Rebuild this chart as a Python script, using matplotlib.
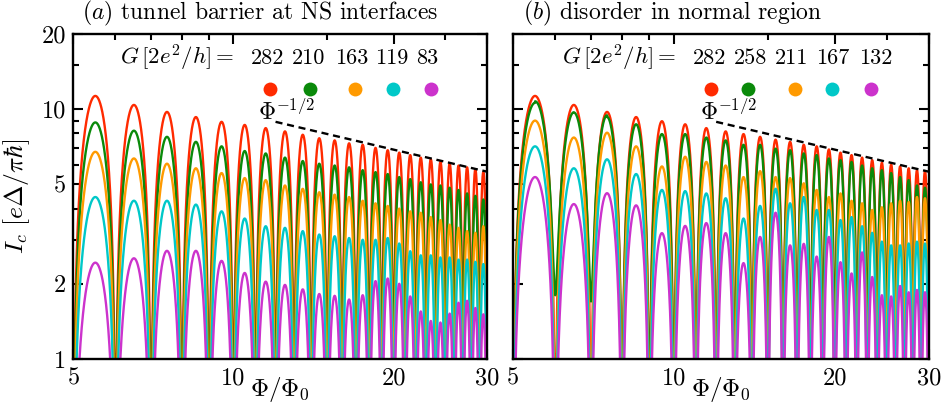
import numpy as np
import matplotlib
matplotlib.use('Agg')
import matplotlib.pyplot as plt
from matplotlib.ticker import FixedLocator, NullFormatter

plt.rcParams['font.family'] = 'serif'
plt.rcParams['font.serif'] = ['cmr10']
plt.rcParams['mathtext.fontset'] = 'cm'
plt.rcParams['axes.unicode_minus'] = False
plt.rcParams['axes.formatter.use_mathtext'] = True

# flux zeros sit at integer Phi/Phi0, one lobe per unit from 5 to 30
# peak height of every lobe, panel (a)
G_a = [282, 210, 163, 119, 83]
red_a = [11.3, 10.4, 9.75, 9.3, 8.9, 8.65, 8.4, 8.15, 7.9, 7.65, 7.5, 7.3, 7.2,
         7.0, 6.85, 6.7, 6.55, 6.4, 6.3, 6.15, 6.05, 5.95, 5.85, 5.75, 5.6]
green_a = [8.85, 8.2, 7.75, 7.4, 7.1, 6.8, 6.65, 6.4, 6.2, 6.05, 5.95, 5.85, 5.7,
           5.6, 5.5, 5.35, 5.25, 5.1, 5.0, 4.95, 4.85, 4.75, 4.6, 4.5, 4.35]
orange_a = [6.75, 6.35, 6.05, 5.8, 5.55, 5.3, 5.2, 4.95, 4.8, 4.65, 4.55, 4.45, 4.3,
            4.2, 4.1, 4.0, 3.9, 3.85, 3.7, 3.6, 3.45, 3.35, 3.25, 3.2, 3.4]
cyan_a = [4.45, 4.3, 4.3, 4.15, 3.9, 3.65, 3.4, 3.35, 3.25, 3.15, 3.1, 3.05, 3.0,
          3.0, 3.05, 2.9, 2.7, 2.6, 2.6, 2.55, 2.55, 2.5, 2.5, 2.45, 2.4]
magenta_a = [2.43, 2.53, 2.71, 2.71, 2.47, 2.21, 2.04, 1.98, 1.9, 1.82, 1.79, 1.73, 1.8,
             2.05, 2.1, 2.0, 1.78, 1.55, 1.42, 1.4, 1.52, 1.68, 1.71, 1.6, 1.51]

# panel (b)
G_b = [282, 258, 211, 167, 132]
red_b = [11.3, 10.4, 9.75, 9.3, 8.95, 8.7, 8.4, 8.15, 7.95, 7.75, 7.55, 7.4, 7.2,
         7.1, 6.9, 6.7, 6.55, 6.4, 6.25, 6.1, 6.0, 5.9, 5.8, 5.7, 5.65]
green_b = [10.6, 9.55, 9.3, 8.7, 7.95, 7.95, 7.7, 7.5, 7.2, 7.2, 6.95, 6.85, 6.65,
           6.55, 6.35, 6.25, 6.15, 5.95, 5.8, 5.7, 5.55, 5.35, 5.2, 4.95, 4.85]
orange_b = [9.0, 7.7, 8.05, 7.1, 5.9, 6.45, 6.15, 5.95, 5.35, 5.65, 5.35, 5.3, 5.05,
            4.75, 4.45, 4.6, 4.3, 4.2, 3.95, 4.05, 4.2, 4.3, 4.25, 4.45, 4.4]
cyan_b = [7.1, 5.8, 6.3, 5.5, 4.75, 4.7, 4.6, 4.4, 3.65, 4.1, 4.8, 4.2, 4.45,
          3.95, 3.95, 3.6, 3.7, 3.4, 3.2, 2.95, 2.85, 2.85, 2.9, 2.95, 2.9]
magenta_b = [5.35, 4.17, 4.61, 4.12, 3.19, 3.41, 3.5, 3.19, 2.42, 3.08, 3.85, 2.85, 2.89,
             2.57, 3.08, 2.44, 2.2, 2.67, 2.13, 1.8, 1.78, 1.96, 1.85, 1.89, 1.85]
# green curve in (b) does not drop to zero at these nodes
lifted_x = [6, 7]
lifted_green_b = [1.8, 1.7]

# Phi^-1/2 guide line
guide_x = [12, 30]
guide_y = [8.9, 5.62]

colors = ['#ff2a00', '#0a8a0a', '#ff9a00', '#00c8c8', '#cc33cc']


def lobes(peaks, floor_x=None, floor_v=None):
    x = np.linspace(5.0001, 29.9999, 25000)
    k = np.clip(np.floor(x - 5).astype(int), 0, len(peaks) - 1)
    y = np.array(peaks)[k] * np.abs(np.sin(np.pi * x))
    if floor_x is not None:
        near = np.rint(x)
        for fx, fv in zip(floor_x, floor_v):
            m = near == fx
            y[m] = np.sqrt(y[m] ** 2 + fv ** 2)
    return x, y


fig = plt.figure(figsize=(9.46, 4.04), dpi=100)
ax_a = fig.add_axes([0.0775, 0.1114, 0.4375, 0.8045])
ax_b = fig.add_axes([0.5422, 0.1114, 0.4397, 0.8045])

series_a = [red_a, green_a, orange_a, cyan_a, magenta_a]
series_b = [red_b, green_b, orange_b, cyan_b, magenta_b]

for i, pk in enumerate(series_a):
    x, y = lobes(pk)
    ax_a.plot(x, y, color=colors[i], lw=1.7)
for i, pk in enumerate(series_b):
    if i == 1:
        x, y = lobes(pk, lifted_x, lifted_green_b)
    else:
        x, y = lobes(pk)
    ax_b.plot(x, y, color=colors[i], lw=1.7)

titles = [r'$(a)$ tunnel barrier at NS interfaces', r'$(b)$ disorder in normal region']
Gs = [G_a, G_b]
dot_x = [[0.475, 0.572, 0.680, 0.772, 0.864], [0.477, 0.566, 0.677, 0.768, 0.862]]
num_x = [[0.470, 0.568, 0.672, 0.769, 0.854], [0.473, 0.571, 0.669, 0.770, 0.871]]
g_left = [0.113, 0.118]

for j, ax in enumerate([ax_a, ax_b]):
    ax.plot(guide_x, guide_y, ls=(0, (3.0, 2.0)), color='black', lw=1.7)
    ax.set_xscale('log')
    ax.set_yscale('log')
    ax.set_xlim(5, 30)
    ax.set_ylim(1, 20)
    ax.xaxis.set_major_locator(FixedLocator([5, 10, 20, 30]))
    ax.xaxis.set_minor_locator(FixedLocator([6, 7, 8, 9, 15, 25]))
    ax.yaxis.set_major_locator(FixedLocator([1, 2, 5, 10, 20]))
    ax.yaxis.set_minor_locator(FixedLocator([3, 4, 6, 7, 8, 9, 15]))
    ax.xaxis.set_minor_formatter(NullFormatter())
    ax.yaxis.set_minor_formatter(NullFormatter())
    ax.set_xticklabels(['5', '10', '20', '30'])
    if j == 0:
        ax.set_yticklabels(['1', '2', '5', '10', '20'])
        ax.set_ylabel(r'$I_c\ [e\Delta/\pi\hbar]$', fontsize=18.5)
        ax.yaxis.set_label_coords(-0.1, 0.5)
    else:
        ax.set_yticklabels([])
    ax.tick_params(which='both', direction='in', top=True, right=True,
                   labelsize=17.5, width=1.5)
    ax.tick_params(axis='x', pad=6)
    ax.tick_params(axis='y', pad=5)
    ax.tick_params(which='major', length=7)
    ax.tick_params(which='minor', length=4)
    for s in ax.spines.values():
        s.set_linewidth(1.7)
    ax.set_xlabel(r'$\Phi/\Phi_0$', fontsize=18)
    ax.xaxis.set_label_coords(0.5, -0.05)

    ax.text(0.022 if j == 0 else 0.024, 1.018, titles[j], transform=ax.transAxes,
            fontsize=17, ha='left', va='bottom')
    ax.text(g_left[j], 0.925, r'$G\,[2e^2/h] =$', transform=ax.transAxes,
            fontsize=16.5, ha='left', va='center')
    for k in range(5):
        ax.text(num_x[j][k], 0.925, str(Gs[j][k]), transform=ax.transAxes,
                fontsize=16, ha='center', va='center')
        ax.plot(dot_x[j][k], 0.831, 'o', color=colors[k], ms=10, mec='none',
                transform=ax.transAxes, clip_on=False)
    ax.text(0.446 if j == 0 else 0.45, 0.76, r'$\Phi^{-1/2}$', transform=ax.transAxes,
            fontsize=17, ha='left', va='center')

fig.savefig('out.png', dpi=100)
